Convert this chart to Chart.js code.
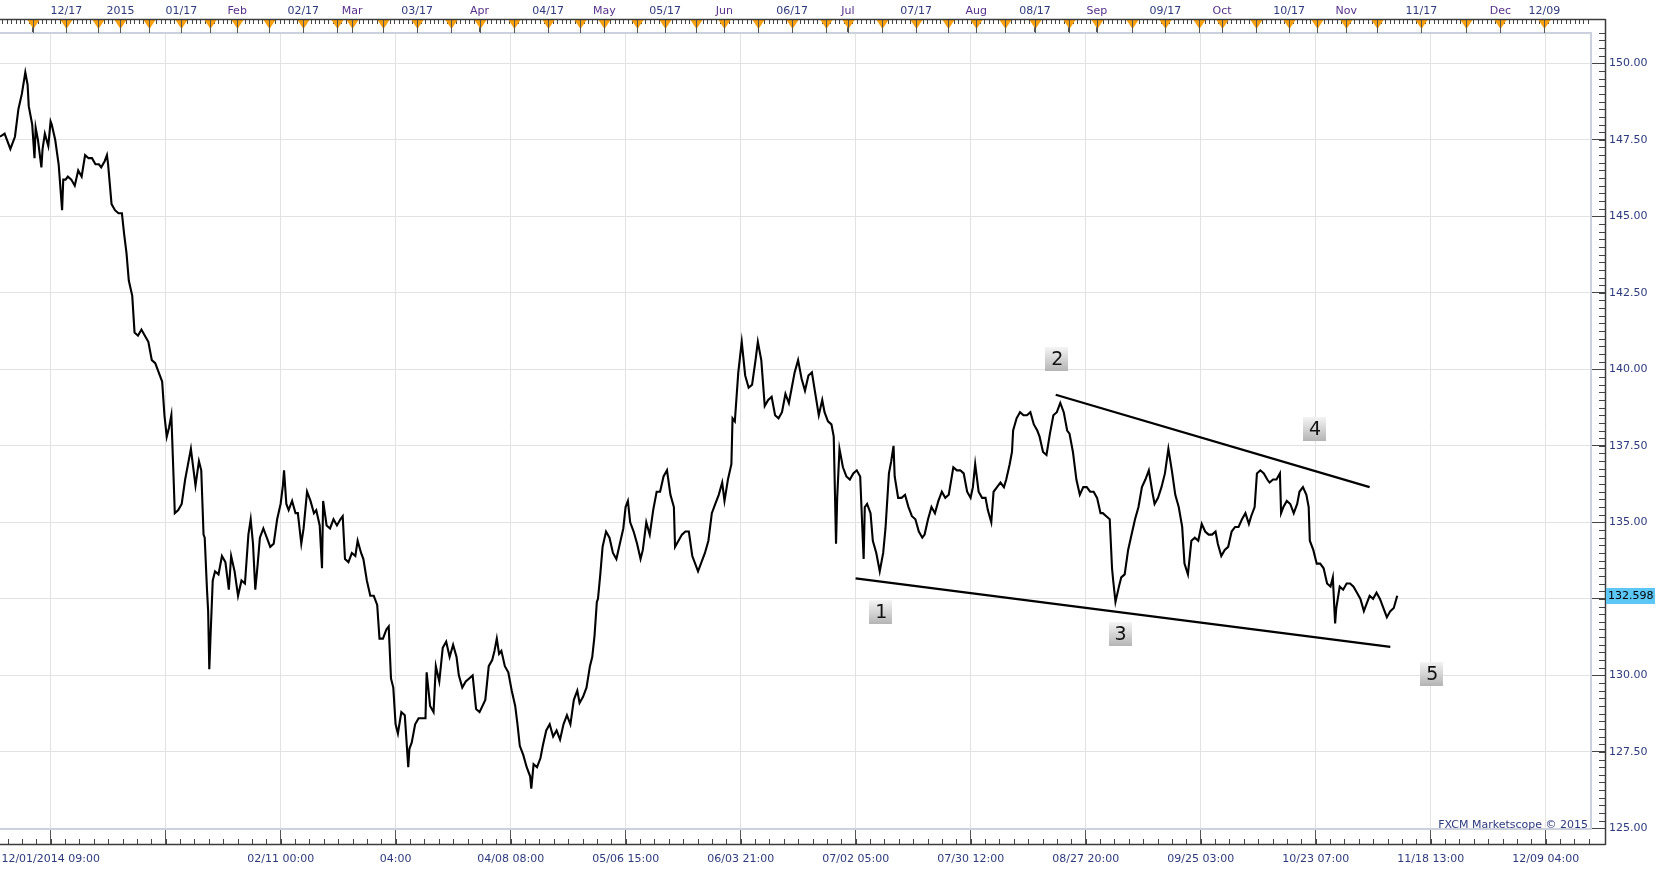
<!DOCTYPE html>
<html><head><meta charset="utf-8">
<script src="https://cdn.jsdelivr.net/npm/chart.js@4.4.1/dist/chart.umd.min.js"></script>
<style>html,body{margin:0;padding:0;background:#fff;overflow:hidden}#wrap{width:1663px;height:870px;position:relative}</style>
</head><body><div id="wrap"><canvas id="c" width="1663" height="870"></canvas></div>
<script>
// ---- data (x = bar index, y = close) ----
const bars = [0,4,9,13,16,19,22,24,25,28,30,31,33,36,37,39,42,44,45,48,51,54,55,57,59,62,65,68,71,74,77,80,83,86,88,91,93,94,97,100,103,106,108,110,112,115,117,120,123,126,129,132,135,138,141,143,145,147,149,151,152,155,158,161,164,166,168,170,173,175,177,178,180,181,182,183,185,187,190,193,196,199,201,204,207,210,213,216,218,220,222,224,226,229,232,235,238,241,244,246,247,249,251,254,257,259,262,264,267,270,273,275,278,280,281,284,287,290,293,296,298,300,303,306,309,311,314,316,319,322,325,328,330,333,336,338,340,342,344,346,349,352,355,356,358,361,364,367,370,371,374,377,379,382,385,388,391,394,397,399,402,405,408,411,414,417,
422,425,428,430,432,434,436,439,442,445,448,450,452,455,458,461,462,464,467,470,472,475,478,481,484,487,490,493,496,499,502,504,507,510,513,515,517,519,520,522,524,527,530,533,536,539,542,544,546,548,551,554,557,559,562,565,568,571,574,577,580,583,586,587,590,593,596,599,602,604,607,610,613,616,619,622,625,628,630,633,636,637,639,642,645,648,651,654,657,659,662,665,668,671,674,677,680,683,686,688,691,694,697,700,703,706,709,712,715,717,720,723,725,727,728,730,733,736,739,742,745,748,751,752,754,757,759,762,765,768,770,773,775,777,778,781,784,787,790,793,796,799,802,804,807,810,813,816,819,822,
825,829,832,835,838,841,844,846,848,851,854,857,859,862,864,867,870,873,875,878,880,881,884,887,890,893,896,899,902,904,907,910,913,916,919,922,925,928,930,933,936,939,942,945,948,951,954,957,959,962,965,967,968,970,973,975,978,981,984,987,990,993,996,999,1002,1004,1007,1010,1013,1016,1019,1022,1025,1028,1030,1033,1036,1039,1042,1045,1048,1051,1054,1057,1059,1062,1065,1068,1071,1074,1077,1080,1083,1086,1088,1091,1093,1096,1099,1102,1104,1107,1110,1113,1114,1116,1119,1122,1125,1128,1130,1133,1136,1138,1139,1142,1145,1148,1151,1154,1157,1159,1161,1162,1165,1168,1171,1174,1177,1180,1183,1186,1188,1191,1194,1197,1200,1203,1206,1209,1212,1215];
const closes = [147.6,147.7,147.2,147.6,148.5,149.0,149.7,149.3,148.6,148.0,146.9,147.9,147.5,146.6,147.2,147.7,147.3,148.1,148.0,147.5,146.7,145.2,146.2,146.2,146.3,146.2,146.0,146.5,146.3,147.0,146.9,146.9,146.7,146.7,146.6,146.8,147.0,146.7,145.4,145.2,145.1,145.1,144.4,143.8,142.9,142.4,141.2,141.1,141.3,141.1,140.9,140.3,140.2,139.9,139.6,138.5,137.8,138.1,138.5,136.4,135.3,135.4,135.6,136.4,137.0,137.4,136.8,136.2,137.0,136.7,134.6,134.5,132.8,132.1,130.2,131.2,133.1,133.4,133.3,133.9,133.7,132.8,133.9,133.4,132.6,133.1,133.0,134.6,135.1,134.3,132.8,133.6,134.5,134.8,134.5,134.2,134.3,135.1,135.6,136.2,136.7,135.6,135.4,135.7,135.3,135.3,134.3,134.8,136.0,135.7,135.3,135.4,134.9,133.5,135.7,134.9,134.8,135.1,134.9,135.1,135.2,133.8,133.7,134.0,133.9,134.4,134.0,133.8,133.1,132.6,132.6,132.3,131.2,131.2,131.5,131.6,129.9,129.6,128.4,128.1,128.8,128.7,127.0,127.6,127.8,128.4,128.6,128.6,128.6,130.1,129.0,128.8,130.3,129.8,130.9,131.1,130.6,131.0,130.6,130.0,129.6,129.8,129.9,130.0,128.9,128.8,
129.2,130.3,130.5,130.8,131.2,130.7,130.8,130.3,130.1,129.5,129.0,128.4,127.7,127.4,127.0,126.7,126.3,127.1,127.0,127.3,127.7,128.2,128.4,128.0,128.2,127.9,128.4,128.7,128.4,129.2,129.5,129.1,129.3,129.6,130.3,130.6,131.3,132.4,132.5,133.3,134.2,134.7,134.5,134.0,133.8,134.3,134.8,135.5,135.7,135.0,134.7,134.3,133.8,134.1,135.0,134.6,135.4,136.0,136.0,136.5,136.7,135.9,135.5,134.2,134.4,134.6,134.7,134.7,133.9,133.7,133.4,133.7,134.0,134.4,135.3,135.6,135.9,136.3,135.7,136.4,136.9,138.4,138.3,139.9,140.9,139.8,139.4,139.5,140.3,140.9,140.3,138.8,139.0,139.1,138.5,138.4,138.6,139.2,138.9,139.3,139.9,140.3,139.7,139.3,139.8,139.9,139.2,138.5,139.0,138.6,138.3,138.2,137.8,134.3,135.8,137.4,136.8,136.5,136.4,136.6,136.7,136.5,133.8,135.5,135.6,135.3,134.4,134.0,133.4,134.0,134.8,136.6,137.0,137.5,136.5,135.8,135.8,135.9,135.5,135.2,135.1,134.7,134.5,134.6,135.1,135.5,135.3,135.7,136.0,135.8,
135.9,136.8,136.7,136.7,136.6,136.0,135.8,136.15,136.9,136.0,135.8,135.8,135.4,135.0,136.0,136.15,136.3,136.15,136.4,136.9,137.3,138.0,138.4,138.6,138.5,138.5,138.6,138.2,138.0,137.8,137.3,137.2,137.9,138.5,138.6,138.9,138.6,138.0,137.9,137.3,136.4,135.9,136.15,136.15,136.0,136.0,135.8,135.3,135.3,135.2,135.1,133.5,133.1,132.4,132.9,133.2,133.3,134.1,134.6,135.1,135.5,136.15,136.4,136.7,136.0,135.6,135.8,136.15,136.6,137.4,136.7,135.9,135.5,134.85,133.65,133.3,134.4,134.5,134.4,134.95,134.7,134.6,134.6,134.7,134.3,133.9,134.1,134.2,134.7,134.85,134.85,135.1,135.3,134.95,135.2,135.5,136.6,136.7,136.6,136.4,136.3,136.4,136.4,136.6,135.3,135.5,135.7,135.6,135.3,135.6,136.0,136.15,135.9,135.5,134.4,134.1,133.65,133.65,133.5,133.0,132.9,133.2,131.7,132.2,132.9,132.8,133.0,133.0,132.9,132.7,132.5,132.1,132.3,132.6,132.5,132.7,132.5,132.2,131.9,132.1,132.2,132.6];
const lastPrice = 132.598;

// trend lines
const upperLineBars = [918, 1191];
const upperLinePrices = [139.17, 136.15];
const lowerLineBars = [744, 1209];
const lowerLinePrices = [133.17, 130.93];

// wave count labels
const waveLabels = ['1','2','3','4','5'];
const waveBars = [766, 919, 974, 1143, 1245];
const wavePrices = [132.06, 140.33, 131.34, 138.05, 130.05];

// axes
const xMin = 0, xMax = 1383.5;
const yMin = 124.98, yMax = 150.99;
const priceTicks = [125,127.5,130,132.5,135,137.5,140,142.5,145,147.5,150];
const gridBars = [44.1,144.1,244.1,344.1,444.1,544.1,644.1,744.1,844.1,944.1,1044.1,1144.1,1244.1,1344.1];
const gridLabels = ['12/01/2014 09:00','','02/11 00:00','04:00','04/08 08:00','05/06 15:00','06/03 21:00','07/02 05:00','07/30 12:00','08/27 20:00','09/25 03:00','10/23 07:00','11/18 13:00','12/09 04:00'];
const topTickBars = [28.3,57.7,85.4,104.7,129.8,157.7,183.0,206.2,234.2,263.7,293.1,306.2,333.2,362.7,392.3,417.0,447.2,476.7,504.7,525.5,554.0,578.3,605.3,629.8,659.3,688.8,718.3,737.3,767.0,796.6,824.5,849.0,874.3,900.0,929.5,953.9,984.6,1013.4,1043.0,1062.7,1092.3,1121.0,1145.4,1170.7,1197.6,1236.0,1275.0,1304.7,1343.0];
const topTickLabels = ['','12/17','','2015','','01/17','','Feb','','02/17','','Mar','','03/17','','Apr','','04/17','','May','','05/17','','Jun','','06/17','','Jul','','07/17','','Aug','','08/17','','Sep','','09/17','','Oct','','10/17','','Nov','','11/17','','Dec','12/09'];
const monthNames = ['Jan','Feb','Mar','Apr','May','Jun','Jul','Aug','Sep','Oct','Nov','Dec'];

const FONT = 'DejaVu Sans';
const NAVY = '#2d3a7c', PURPLE = '#57308a';
Chart.defaults.font.family = FONT;

const decor = {
  id: 'decor',
  afterDraw(chart) {
    const {ctx, chartArea: ca, scales} = chart;
    const x = scales.x, x2 = scales.x2, y = scales.y;
    const axTop = Math.round(ca.top) - 14, axBot = Math.round(ca.bottom) + 15, axRight = Math.round(ca.right) + 14;
    ctx.save();
    // minor ticks
    ctx.strokeStyle = '#444'; ctx.lineWidth = 1;
    ctx.beginPath();
    for (let b = gridBars[0] - 12.5 * 3; b <= xMax; b += 12.5) {
      const px = Math.round(x.getPixelForValue(b)) + 0.5;
      if (px < 0 || px > ca.right) continue;
      ctx.moveTo(px, axBot); ctx.lineTo(px, axBot - 5);
    }
    for (let p = 125; p <= 151; p += 0.25) {
      const py = Math.round(y.getPixelForValue(p)) + 0.5;
      if (py < axTop || py > axBot) continue;
      ctx.moveTo(axRight, py); ctx.lineTo(axRight - 6, py);
    }
    for (let b = 2; b <= xMax; b += 3.83) {
      const px = Math.round(x2.getPixelForValue(b)) + 0.5;
      ctx.moveTo(px, axTop); ctx.lineTo(px, axTop + 5);
    }
    ctx.stroke();
    // orange triangles on top ticks
    topTickBars.forEach(v => {
      const px = Math.round(x2.getPixelForValue(v)) + 0.5;
      ctx.fillStyle = '#f8a00c';
      ctx.beginPath();
      ctx.moveTo(px - 6, axTop + 1); ctx.lineTo(px + 6, axTop + 1); ctx.lineTo(px, axTop + 10); ctx.closePath();
      ctx.fill();
      ctx.strokeStyle = '#555';
      ctx.beginPath(); ctx.moveTo(px, axTop + 1); ctx.lineTo(px, ca.top); ctx.stroke();
    });
    // axis frame lines
    ctx.strokeStyle = '#3c3c3c'; ctx.lineWidth = 1.5;
    ctx.beginPath();
    ctx.moveTo(0, axTop + 0.5); ctx.lineTo(axRight + 0.5, axTop + 0.5);
    ctx.moveTo(axRight + 0.5, axTop); ctx.lineTo(axRight + 0.5, axBot + 1);
    ctx.moveTo(0, axBot + 0.5); ctx.lineTo(axRight + 0.5, axBot + 0.5);
    ctx.stroke();
    // wave count labels
    waveLabels.forEach((t, i) => {
      const cx = x.getPixelForValue(waveBars[i]), cy = y.getPixelForValue(wavePrices[i]);
      const w = 23, h = 24;
      const g = ctx.createLinearGradient(0, cy - h / 2, 0, cy + h / 2);
      g.addColorStop(0, '#f4f4f4'); g.addColorStop(1, '#b4b4b4');
      ctx.fillStyle = g;
      ctx.fillRect(Math.round(cx - w / 2), Math.round(cy - h / 2), w, h);
      ctx.fillStyle = '#111';
      ctx.font = '19px ' + FONT;
      ctx.textAlign = 'center'; ctx.textBaseline = 'middle';
      ctx.fillText(t, cx + 0.5, cy + 1);
    });
    // last price box
    const ly = y.getPixelForValue(lastPrice);
    ctx.fillStyle = '#5cc6f5';
    ctx.fillRect(axRight + 1, Math.round(ly) - 8, 49, 16);
    ctx.fillStyle = '#000';
    ctx.font = '11px ' + FONT;
    ctx.textAlign = 'left'; ctx.textBaseline = 'middle';
    ctx.fillText(lastPrice.toFixed(3), axRight + 3, ly + 0.5);
    // copyright
    ctx.fillStyle = NAVY;
    ctx.textAlign = 'right'; ctx.textBaseline = 'middle';
    ctx.fillText('FXCM Marketscope \u00a9 2015', ca.right - 3, ca.bottom - 4);
    ctx.restore();
  }
};

const toPts = (xs, ys) => xs.map((b, i) => ({x: b, y: ys[i]}));

new Chart(document.getElementById('c'), {
  type: 'line',
  data: {
    datasets: [
      {label: 'price', data: toPts(bars, closes), borderColor: '#000', borderWidth: 2.1, pointRadius: 0, tension: 0, xAxisID: 'x', yAxisID: 'y'},
      {label: 'upper', data: toPts(upperLineBars, upperLinePrices), borderColor: '#000', borderWidth: 2.3, pointRadius: 0, xAxisID: 'x', yAxisID: 'y'},
      {label: 'lower', data: toPts(lowerLineBars, lowerLinePrices), borderColor: '#000', borderWidth: 2.3, pointRadius: 0, xAxisID: 'x', yAxisID: 'y'}
    ]
  },
  options: {
    responsive: false, animation: false, devicePixelRatio: 1,
    layout: {padding: 0},
    plugins: {legend: {display: false}, tooltip: {enabled: false}},
    scales: {
      x: {
        type: 'linear', position: 'bottom', min: xMin, max: xMax,
        afterBuildTicks: s => { s.ticks = gridBars.map(v => ({value: v})); },
        afterFit: s => { s.height = 41; s.paddingLeft = 0; s.paddingRight = 0; },
        ticks: {autoSkip: false, maxRotation: 0, padding: 9, color: NAVY, font: {size: 11},
          callback: (v, i) => gridLabels[i]},
        grid: {color: '#e2e2e2', lineWidth: 1, tickLength: 15, tickColor: '#555'},
        border: {display: true, color: '#cbd2dd', width: 2}
      },
      x2: {
        type: 'linear', position: 'top', min: xMin, max: xMax,
        afterBuildTicks: s => { s.ticks = topTickBars.map(v => ({value: v})); },
        afterFit: s => { s.height = 33; s.paddingLeft = 0; s.paddingRight = 0; },
        ticks: {autoSkip: false, maxRotation: 0, padding: 1, font: {size: 11},
          color: c => (c.tick && monthNames.includes(c.tick.label)) ? PURPLE : NAVY,
          callback: (v, i) => topTickLabels[i]},
        grid: {drawOnChartArea: false, tickLength: 14, tickColor: '#555'},
        border: {display: true, color: '#cbd2dd', width: 2}
      },
      y: {
        type: 'linear', position: 'right', min: yMin, max: yMax,
        afterBuildTicks: s => { s.ticks = priceTicks.map(v => ({value: v})); },
        afterFit: s => { s.width = 72; },
        ticks: {padding: 4, color: NAVY, font: {size: 11},
          callback: v => Math.abs(v - lastPrice) < 0.3 ? '' : v.toFixed(2)},
        grid: {color: '#e2e2e2', lineWidth: 1, tickLength: 14, tickColor: '#444'},
        border: {display: true, color: '#cbd2dd', width: 2}
      }
    }
  },
  plugins: [decor]
});
</script>
</body></html>
